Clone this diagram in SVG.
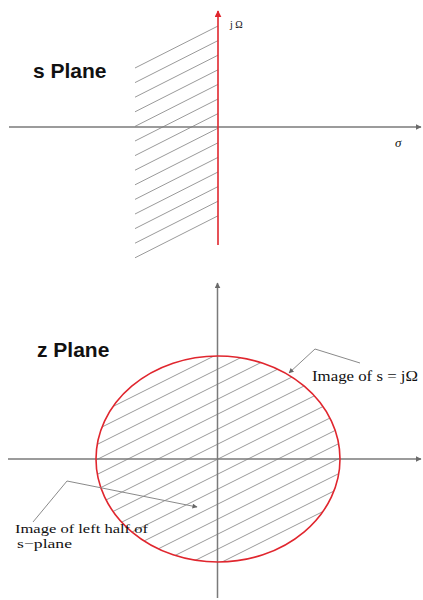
<svg xmlns="http://www.w3.org/2000/svg" width="423" height="600" viewBox="0 0 423 600">
<style>
.axis{stroke:#7a7a7a;stroke-width:1.5;fill:none}
.hatch{stroke:#9a9a9a;stroke-width:1;fill:none}
.red{stroke:#e0262e;stroke-width:1.6;fill:none}
.call{stroke:#8a8a8a;stroke-width:1;fill:none}
.title{font-family:"Liberation Sans",Arial,sans-serif;font-weight:bold;font-size:21px;fill:#111}
.lbl{font-family:"Liberation Serif","Times New Roman",serif;fill:#111}
</style>
<defs>
<marker id="ag" viewBox="0 0 10 10" refX="9" refY="5" markerWidth="6" markerHeight="6" orient="auto" markerUnits="userSpaceOnUse"><path d="M0,0 L10,5 L0,10 z" fill="#6a6a6a"/></marker>
<marker id="ar" viewBox="0 0 10 10" refX="9" refY="5" markerWidth="7" markerHeight="7" orient="auto" markerUnits="userSpaceOnUse"><path d="M0,0 L10,5 L0,10 z" fill="#e0262e"/></marker>
<marker id="ac" viewBox="0 0 10 10" refX="9" refY="5" markerWidth="6" markerHeight="5" orient="auto" markerUnits="userSpaceOnUse"><path d="M0,0 L10,5 L0,10 z" fill="#666"/></marker>
<clipPath id="ellclip"><ellipse cx="218" cy="459" rx="122" ry="103"/></clipPath>
</defs>

<g id="s-plane">
<g id="s-hatch" class="hatch">
<path d="M135,68 L218,26 M135,82.6 L218,40.6 M135,97.2 L218,55.2 M135,111.8 L218,69.8 M135,126.4 L218,84.4 M135,141 L218,99 M135,155.6 L218,113.6 M135,170.2 L218,128.2 M135,184.8 L218,142.8 M135,199.4 L218,157.4 M135,214 L218,172 M135,228.6 L218,186.6 M135,243.2 L218,201.2 M135,257.8 L218,215.8"/>
</g>
<line id="s-real-axis" class="axis" x1="9" y1="127" x2="421" y2="127" marker-end="url(#ag)"/>
<line id="s-imag-axis" class="red" x1="218" y1="245" x2="218" y2="11" marker-end="url(#ar)"/>
<text class="title" x="33" y="78">s Plane</text>
<text class="lbl" x="230" y="28" font-size="10">j Ω</text>
<text class="lbl" x="395" y="147" font-size="13" font-style="italic">σ</text>
</g>

<g id="z-plane">
<g id="z-hatch" class="hatch" clip-path="url(#ellclip)">
<path d="M90,358 L346,230 M90,373 L346,245 M90,388 L346,260 M90,403 L346,275 M90,418 L346,290 M90,433 L346,305 M90,448 L346,320 M90,463 L346,335 M90,478 L346,350 M90,493 L346,365 M90,508 L346,380 M90,523 L346,395 M90,538 L346,410 M90,553 L346,425 M90,568 L346,440 M90,583 L346,455 M90,598 L346,470 M90,613 L346,485 M90,628 L346,500 M90,643 L346,515 M90,658 L346,530 M90,673 L346,545 M90,688 L346,560"/>
</g>
<line id="z-real-axis" class="axis" x1="8" y1="459" x2="421" y2="459" marker-end="url(#ag)"/>
<line id="z-imag-axis" class="axis" x1="217.5" y1="598" x2="217.5" y2="283" marker-end="url(#ag)"/>
<ellipse id="unit-circle" class="red" cx="218" cy="459" rx="122" ry="103"/>
<text class="title" x="37" y="357">z Plane</text>
</g>

<g id="connectors">
<polyline class="call" points="360,363 315,349 289,373" marker-end="url(#ac)"/>
<polyline class="call" points="33,522 67,481 197,507" marker-end="url(#ac)"/>
</g>

<g id="callout-labels">
<text class="lbl" x="312" y="381" font-size="14" textLength="106" lengthAdjust="spacingAndGlyphs">Image of s = jΩ</text>
<text class="lbl" x="15" y="533" font-size="12.5" textLength="133" lengthAdjust="spacingAndGlyphs">Image of left half of</text>
<text class="lbl" x="17" y="547.5" font-size="12.5" textLength="55" lengthAdjust="spacingAndGlyphs">s−plane</text>
</g>
</svg>
